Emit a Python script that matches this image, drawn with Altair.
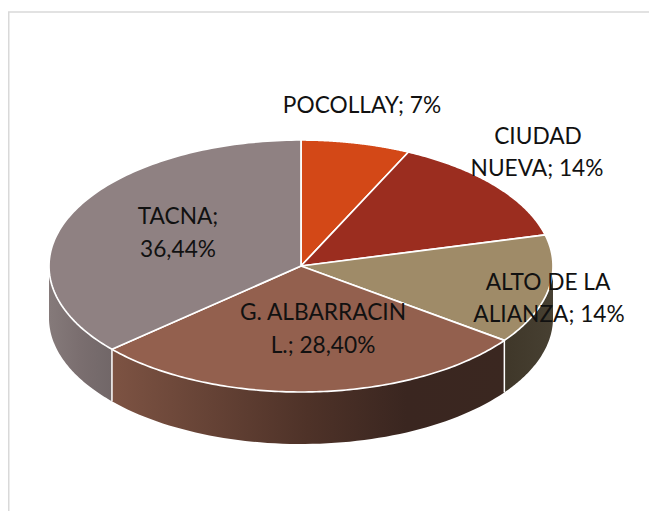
import math
import altair as alt
import pandas as pd

# values
names = ["POCOLLAY", "CIUDAD NUEVA", "ALTO DE LA ALIANZA", "G. ALBARRACIN L.", "TACNA"]
shares = [7, 14, 14, 28.40, 36.44]
top_colors = ["#D34817", "#9B2D1F", "#9F8B68", "#93604E", "#8F8182"]
label_lines = [["POCOLLAY; 7%"], ["CIUDAD", "NUEVA; 14%"], ["ALTO DE LA", "ALIANZA; 14%"],
               ["G. ALBARRACIN", "L.; 28,40%"], ["TACNA;", "36,44%"]]

# layout (pixels of the page)
W, H = 641, 503
CX, CY, RX = 301 - 8, 266 - 8, 252
TILT = 0.5
DEPTH = 52 / RX
label_anchor_px = [[(362, 105.5)], [(538, 136.5), (537, 168.5)], [(548, 282.5), (549, 314.5)],
                   [(323, 312.5), (323, 345.5)], [(178, 216.5), (178, 249.5)]]
wall_gradients = {
    2: [(0, "#3F3729"), (1, "#474032")],
    3: [(0, "#7D5343"), (0.5, "#4E3228"), (0.75, "#3A2620"), (1, "#3A2720")],
    4: [(0, "#857A7A"), (0.5, "#7A6E6F"), (1, "#716768")],
}

xs = alt.Scale(domain=[-CX / RX, (W - CX) / RX], nice=False, zero=False)
ys = alt.Scale(domain=[-(H - CY) / RX, CY / RX], nice=False, zero=False)
X = lambda f: alt.X(f, type="quantitative", scale=xs, axis=None)
Y = lambda f: alt.Y(f, type="quantitative", scale=ys, axis=None)

total = sum(shares)
edges = [0]
for s in shares:
    edges.append(edges[-1] + s / total * 2 * math.pi)


def pt(a):
    return math.sin(a), TILT * math.cos(a)


layers = []

# frame
GREY = "#D9D9D9"
frame_v = pd.DataFrame([{"x": (0.75 - CX) / RX, "y": -(H - CY) / RX, "y2": (CY - 4) / RX}])
frame_h = pd.DataFrame([{"x": -CX / RX, "x2": (W - CX) / RX, "y": (CY - 4) / RX}])
layers.append(alt.Chart(frame_h).mark_rule(color=GREY, strokeWidth=1.5).encode(x=X("x"), x2="x2", y=Y("y")))
layers.append(alt.Chart(frame_v).mark_rule(color=GREY, strokeWidth=1.5).encode(x=X("x"), y=Y("y"), y2="y2"))

# side walls
for i, (c0, c1) in enumerate(zip(edges[:-1], edges[1:])):
    lo, hi = max(c0, math.pi / 2), min(c1, 3 * math.pi / 2)
    if lo >= hi or i not in wall_gradients:
        continue
    rows = []
    n = 60
    for k in range(n + 1):
        x, y = pt(lo + (hi - lo) * k / n)
        rows.append({"x": x, "y": y, "y2": y - DEPTH})
    stops = [alt.GradientStop(offset=o, color=c) for o, c in wall_gradients[i]]
    layers.append(alt.Chart(pd.DataFrame(rows)).mark_area(
        color=alt.LinearGradient(gradient="linear", stops=stops, x1=0, x2=1, y1=0, y2=0),
        interpolate="linear",
    ).encode(x=X("x"), y=Y("y"), y2="y2"))

# wall separators
seps = []
for a in edges[1:-1]:
    if math.pi / 2 < a < 3 * math.pi / 2:
        x, y = pt(a)
        seps.append({"x": x, "y": y, "y2": y - DEPTH})
layers.append(alt.Chart(pd.DataFrame(seps)).mark_rule(color="white", strokeWidth=1.5)
              .encode(x=X("x"), y=Y("y"), y2="y2"))

# top slices
for i, (c0, c1) in enumerate(zip(edges[:-1], edges[1:])):
    rows = [{"i": 0, "x": 0.0, "y": 0.0}]
    n = 120
    for k in range(n + 1):
        x, y = pt(c0 + (c1 - c0) * k / n)
        rows.append({"i": k + 1, "x": x, "y": y})
    rows.append({"i": n + 2, "x": 0.0, "y": 0.0})
    layers.append(alt.Chart(pd.DataFrame(rows)).mark_line(
        fill=top_colors[i], stroke="white", strokeWidth=1.7, strokeJoin="round", interpolate="linear",
    ).encode(x=X("x"), y=Y("y"), order=alt.Order("i:Q")))

# labels
rows = []
for lines, anchors in zip(label_lines, label_anchor_px):
    for t, (px, py) in zip(lines, anchors):
        rows.append({"t": t, "x": (px - 8 - CX) / RX, "y": (CY - (py - 8)) / RX})
layers.append(alt.Chart(pd.DataFrame(rows)).mark_text(
    font="Lato", fontSize=22.7, color="#111111", align="center", baseline="middle",
).encode(x=X("x"), y=Y("y"), text="t:N"))

chart = alt.layer(*layers).properties(
    width=W, height=H, padding=0, autosize=alt.AutoSizeParams(type="none"), background="white",
).configure_view(stroke=None)

chart.save("out.html", embed_options={"renderer": "svg", "actions": False})
